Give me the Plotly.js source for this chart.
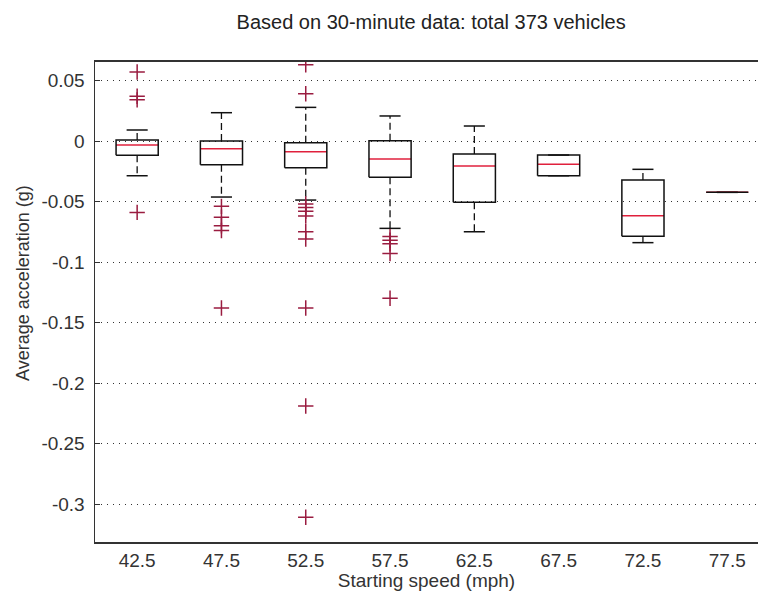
<!DOCTYPE html>
<html>
<head>
<meta charset="utf-8">
<script src="https://cdn.plot.ly/plotly-3.0.1.min.js"></script>
<style>html,body{margin:0;padding:0;background:#fff;}#chart{width:758px;height:591px;}</style>
</head>
<body>
<div id="chart"></div>
<script>
// Categories (starting speed, mph)
const speeds = ["42.5", "47.5", "52.5", "57.5", "62.5", "67.5", "72.5", "77.5"];
// Box statistics (average acceleration, g)
const q1          = [-0.0118, -0.0196, -0.0220, -0.0300, -0.0507, -0.0287, -0.0788, -0.0424];
const medians     = [-0.0033, -0.0063, -0.0088, -0.0149, -0.0207, -0.0193, -0.0617, -0.0424];
const q3          = [ 0.0008,  0.0000, -0.0014,  0.0003, -0.0107, -0.0116, -0.0322, -0.0424];
const whiskerLow  = [-0.0287, -0.0463, -0.0488, -0.0722, -0.0750, -0.0287, -0.0840, -0.0424];
const whiskerHigh = [ 0.0091,  0.0234,  0.0278,  0.0207,  0.0124, -0.0116, -0.0234, -0.0424];
// Outliers
const outlierSpeed = ["42.5","42.5","42.5","42.5",
                      "47.5","47.5","47.5","47.5","47.5",
                      "52.5","52.5","52.5","52.5","52.5","52.5","52.5","52.5","52.5","52.5","52.5",
                      "57.5","57.5","57.5","57.5","57.5"];
const outlierValue = [0.057, 0.037, 0.034, -0.059,
                      -0.054, -0.063, -0.070, -0.074, -0.138,
                      0.063, 0.039, -0.052, -0.055, -0.058, -0.062, -0.075, -0.081, -0.138, -0.219, -0.311,
                      -0.079, -0.082, -0.085, -0.093, -0.130];
// Y tick labels
const yTickVals = [0.05, 0, -0.05, -0.1, -0.15, -0.2, -0.25, -0.3];
const yTickText = ["0.05", "0", "-0.05", "-0.1", "-0.15", "-0.2", "-0.25", "-0.3"];

const pos = speeds.map((s, i) => i + 1);
const half = 0.25, capHalf = 0.125;

const boxX = [], boxY = [], whX = [], whY = [], capX = [], capY = [], medX = [], medY = [];
pos.forEach((p, i) => {
  boxX.push(p - half, p + half, p + half, p - half, p - half, null);
  boxY.push(q1[i], q1[i], q3[i], q3[i], q1[i], null);
  whX.push(p, p, null, p, p, null);
  whY.push(q3[i], whiskerHigh[i], null, q1[i], whiskerLow[i], null);
  capX.push(p - capHalf, p + capHalf, null, p - capHalf, p + capHalf, null);
  capY.push(whiskerHigh[i], whiskerHigh[i], null, whiskerLow[i], whiskerLow[i], null);
  medX.push(p - half, p + half, null);
  medY.push(medians[i], medians[i], null);
});
const outX = outlierSpeed.map(s => speeds.indexOf(s) + 1);

const outColor = '#9a1c40';
const traces = [
  {x: whX, y: whY, mode: 'lines', line: {color: '#111', width: 1.3, dash: '7px,4px'}, hoverinfo: 'skip', showlegend: false},
  {x: capX, y: capY, mode: 'lines', line: {color: '#111', width: 1.5}, hoverinfo: 'skip', showlegend: false},
  {x: medX, y: medY, mode: 'lines', line: {color: '#e0203c', width: 1.5}, hoverinfo: 'skip', showlegend: false},
  {x: boxX, y: boxY, mode: 'lines', line: {color: '#111', width: 1.5}, hoverinfo: 'skip', showlegend: false},
  {x: outX, y: outlierValue, mode: 'markers', marker: {symbol: 'cross-thin-open', size: 11, color: outColor, line: {color: outColor, width: 1.5}}, showlegend: false}
];

const fam = '"Liberation Sans", Arial, sans-serif';

const layout = {
  width: 758, height: 591,
  margin: {l: 95, r: 0, t: 62, b: 49},
  paper_bgcolor: '#fff', plot_bgcolor: '#fff',
  font: {family: fam, color: '#333', size: 19},
  showlegend: false,
  title: {text: 'Based on 30-minute data: total 373 vehicles', font: {size: 20, color: '#222', family: fam},
          xref: 'paper', x: 0.507, xanchor: 'center', yref: 'container', y: 1 - 22/591, yanchor: 'middle'},
  xaxis: {
    range: [0.5, 8.365], tickvals: pos, ticktext: speeds, ticks: '',
    showgrid: false, zeroline: false, showline: true, mirror: true, linecolor: '#333', linewidth: 2,
    tickfont: {size: 19, color: '#333'},
    title: {text: 'Starting speed (mph)', font: {size: 19, color: '#333'}, standoff: 4}
  },
  yaxis: {
    range: [-0.3314, 0.0653], tickvals: yTickVals, ticktext: yTickText,
    ticks: 'inside', ticklen: 5, tickcolor: '#333',
    showgrid: true, gridcolor: '#333', gridwidth: 1, griddash: '1px,5px',
    zeroline: false, showline: true, mirror: false, linecolor: '#333', linewidth: 1.5,
    tickfont: {size: 19, color: '#333'}, ticklabelstandoff: 5
  },
  annotations: [{
    text: 'Average acceleration (g)', textangle: -90, showarrow: false,
    xref: 'paper', x: (23 - 95) / 663, xanchor: 'center',
    yref: 'paper', y: (542 - 283) / 480, yanchor: 'middle',
    font: {size: 18, color: '#333', family: fam}
  }]
};

Plotly.newPlot('chart', traces, layout, {staticPlot: true, displayModeBar: false});
</script>
</body>
</html>
